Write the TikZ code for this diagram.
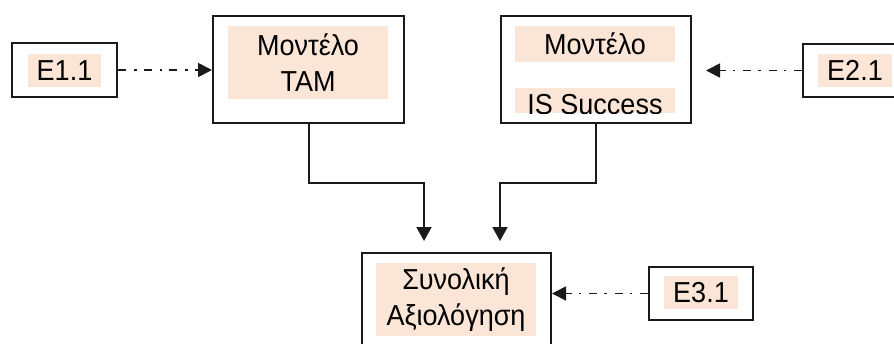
\documentclass[tikz,border=0pt]{standalone}
\usepackage{fontspec}
\setmainfont{Liberation Sans}
\usepackage{xcolor}
\usetikzlibrary{arrows.meta}

\definecolor{peach}{HTML}{FBE5D6}
\definecolor{inkline}{HTML}{1A1A1A}

% the reference glyphs are slightly taller than wide
\newcommand{\tallword}[1]{\scalebox{1}[1.07]{#1}}

\tikzset{
	outerbox/.style = {draw = inkline, line width = 2pt, inner sep = 0pt},
	fillbox/.style = {fill = peach, inner sep = 0pt, align = center, font = \fontsize{27}{36}\selectfont},
	dashlink/.style = {draw = inkline, line width = 1.7pt, dash pattern = on 8pt off 8pt on 2.5pt off 7pt, -{Triangle[length = 14pt, width = 14pt]}},
	solidlink/.style = {draw = inkline, line width = 2pt, -{Triangle[length = 14pt, width = 15pt]}}
}

\begin{document}
\begin{tikzpicture}[x = 1pt, y = -1pt]
	\clip (0,0) rectangle (894,343);

	% outer frames
	\begin{scope}
		\node [outerbox, minimum width = 105pt, minimum height = 54pt] (e11box) at (64.5,70) {};
		\node [outerbox, minimum width = 191pt, minimum height = 107pt] (tambox) at (308.5,69.5) {};
		\node [outerbox, minimum width = 190pt, minimum height = 107pt] (isbox) at (596,69.5) {};
		\node [outerbox, minimum width = 105pt, minimum height = 53pt] (e21box) at (855.5,70.5) {};
		\node [outerbox, minimum width = 189pt, minimum height = 107pt] (synbox) at (456.5,306.5) {};
		\node [outerbox, minimum width = 104pt, minimum height = 53pt] (e31box) at (701,293.5) {};
	\end{scope}

	% shaded texts
	\begin{scope}
		\node [fillbox, minimum width = 73pt, minimum height = 33pt] (e11) at (64.5,70.5) {\tallword{E1.1}};
		\node [fillbox, minimum width = 160pt, minimum height = 73pt] (tam) at (308,62.5) {\tallword{Μοντέλο}\\\tallword{TAM}};
		\node [fillbox, minimum width = 160pt, minimum height = 36pt] (ismodel) at (595,44) {\tallword{Μοντέλο}};
		\node [fillbox, minimum width = 160pt, minimum height = 25pt] (issuccess) at (595,100.5) {};
		\node [fillbox, minimum width = 74pt, minimum height = 33pt] (e21) at (855,70.5) {\tallword{E2.1}};
		\node [fillbox, minimum width = 160pt, minimum height = 73pt] (syn) at (456,299.5) {\tallword{Συνολική}\\\tallword{Αξιολόγηση}};
		\node [fillbox, minimum width = 74pt, minimum height = 33pt] (e31) at (701,292.5) {\tallword{E3.1}};
	\end{scope}

	\begin{scope}
		\clip (issuccess.south west) rectangle (issuccess.north east);
		\node [anchor = base, inner sep = 0pt, font = \fontsize{27}{36}\selectfont] (istext) at (595,114) {\tallword{IS Success}};
	\end{scope}

	% connectors
	\coordinate (istip) at (706,70.5);
	\coordinate (tamtip) at (424,241);
	\coordinate (succtip) at (500,241);

	\draw [dashlink] (e11box.east) -- (e11box.east -| tambox.west);
	\draw [dashlink] (e21box.west) -- (istip);
	\draw [dashlink] (e31box.west) -- (e31box.west -| synbox.east);

	\draw [solidlink] (tambox.south) -- ++(0,59) -| (tamtip);
	\draw [solidlink] (isbox.south) -- ++(0,59) -| (succtip);
\end{tikzpicture}
\end{document}
